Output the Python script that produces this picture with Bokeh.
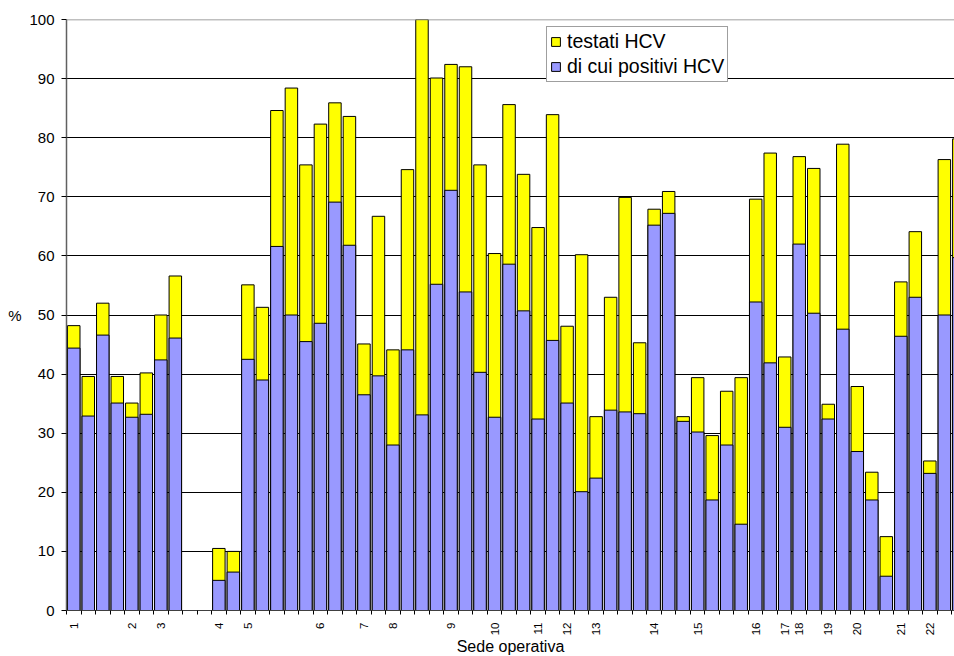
import numpy as np
from bokeh.plotting import figure
from bokeh.models import (Range1d, FixedTicker, Legend, LegendItem, Span,
                          ColumnDataSource, LinearAxis)
from bokeh.embed import file_html
from bokeh.resources import INLINE

nan = float("nan")

# one entry per category slot on the x axis ("" = unlabelled slot)
sede_labels = [
    "1", "", "", "", "2", "", "3", "", "", "",
    "4", "", "5", "", "", "", "", "6", "", "",
    "7", "", "8", "", "", "", "9", "", "", "10",
    "", "", "11", "", "12", "", "13", "", "", "",
    "14", "", "", "15", "", "", "", "16", "", "17",
    "18", "", "19", "", "20", "", "", "21", "", "22",
    "", "",
]

testati_hcv = [
    48.2, 39.6, 52.0, 39.6, 35.1, 40.2, 50.0, 56.6, nan, nan,
    10.5, 10.0, 55.1, 51.3, 84.6, 88.4, 75.4, 82.3, 85.9, 83.6,
    45.1, 66.7, 44.1, 74.6, 100.0, 90.1, 92.4, 92.0, 75.4, 60.4,
    85.6, 73.8, 64.8, 83.9, 48.1, 60.2, 32.8, 53.0, 69.9, 45.3,
    67.9, 70.9, 32.8, 39.4, 29.6, 37.1, 39.4, 69.6, 77.4, 42.9,
    76.8, 74.8, 34.9, 78.9, 37.9, 23.4, 12.5, 55.6, 64.1, 25.3,
    76.3, 79.8,
]

positivi_hcv = [
    44.4, 32.9, 46.6, 35.1, 32.7, 33.2, 42.4, 46.1, nan, nan,
    5.1, 6.5, 42.5, 39.0, 61.6, 50.0, 45.5, 48.6, 69.1, 61.8,
    36.5, 39.7, 28.0, 44.1, 33.1, 55.2, 71.1, 53.9, 40.3, 32.7,
    58.6, 50.7, 32.4, 45.7, 35.1, 20.1, 22.4, 33.9, 33.6, 33.3,
    65.2, 67.2, 32.0, 30.2, 18.7, 28.0, 14.6, 52.2, 41.9, 31.0,
    62.0, 50.3, 32.4, 47.6, 26.9, 18.7, 5.8, 46.4, 53.0, 23.2,
    50.0, 59.7,
]

y_ticks = [0, 10, 20, 30, 40, 50, 60, 70, 80, 90, 100]
y_title = "%"
x_title = "Sede operativa"

FONT = "Liberation Sans"

n = len(sede_labels)
src = ColumnDataSource(data=dict(
    x=np.arange(n),
    testati=np.array(testati_hcv, dtype=float),
    positivi=np.array(positivi_hcv, dtype=float),
))

p = figure(frame_width=888, frame_height=591,
           min_border_left=66, min_border_right=0,
           min_border_top=19, min_border_bottom=46,
           x_range=Range1d(-0.5, 60.7), y_range=Range1d(0, 100),
           output_backend="svg", toolbar_location=None,
           background_fill_color="white", border_fill_color="white")
p.outline_line_color = None

r1 = p.vbar(x="x", top="testati", bottom=0, width=0.86, source=src,
            fill_color="#FFFF00", line_color="black", line_width=1)
r2 = p.vbar(x="x", top="positivi", bottom=0, width=0.86, source=src,
            fill_color="#9999FF", line_color="black", line_width=1)

# grid
p.xgrid.grid_line_color = None
p.ygrid.ticker = FixedTicker(ticks=y_ticks[1:-1])
p.ygrid.grid_line_color = "#000000"
p.ygrid.grid_line_width = 1
p.add_layout(Span(location=100, dimension="width", line_color="#808080", line_width=1.5))

# y axis
p.yaxis.ticker = FixedTicker(ticks=y_ticks)
p.yaxis.major_tick_out = 5
p.yaxis.major_tick_in = 0
p.yaxis.minor_tick_line_color = None
p.yaxis.axis_line_color = "#606060"
p.yaxis.axis_line_width = 1.5
p.yaxis.major_tick_line_color = "black"
p.yaxis.major_label_text_font = FONT
p.yaxis.major_label_text_font_size = "15px"
p.yaxis.major_label_text_color = "black"
p.yaxis.major_label_standoff = 7

# horizontal "%" title: an extra, line-less axis outside the main y axis
ytitle_axis = LinearAxis(ticker=FixedTicker(ticks=[50]),
                         major_label_overrides={50: y_title})
ytitle_axis.axis_line_color = None
ytitle_axis.major_tick_line_color = None
ytitle_axis.minor_tick_line_color = None
ytitle_axis.major_tick_out = 0
ytitle_axis.major_tick_in = 0
ytitle_axis.major_label_standoff = 5
ytitle_axis.major_label_text_font = FONT
ytitle_axis.major_label_text_font_size = "15px"
ytitle_axis.major_label_text_color = "black"
p.add_layout(ytitle_axis, "left")

# x axis
major = [i for i, l in enumerate(sede_labels) if l]
minor = [i - 0.5 for i in range(n + 1)]
p.xaxis.ticker = FixedTicker(ticks=major, minor_ticks=minor)
p.xaxis.major_label_overrides = {i: sede_labels[i] for i in major}
p.xaxis.major_tick_out = 0
p.xaxis.major_tick_in = 0
p.xaxis.minor_tick_out = 4
p.xaxis.minor_tick_in = 0
p.xaxis.minor_tick_line_color = "black"
p.xaxis.axis_line_color = "#404040"
p.xaxis.major_label_orientation = np.pi / 2
p.xaxis.major_label_text_font = FONT
p.xaxis.major_label_text_font_size = "11.5px"
p.xaxis.major_label_text_color = "black"
p.xaxis.major_label_standoff = 8
p.xaxis.axis_label = x_title
p.xaxis.axis_label_text_font = FONT
p.xaxis.axis_label_text_font_size = "16px"
p.xaxis.axis_label_text_font_style = "normal"
p.xaxis.axis_label_text_color = "black"
p.xaxis.axis_label_standoff = 0

legend = Legend(items=[LegendItem(label="testati HCV", renderers=[r1]),
                       LegendItem(label="di cui positivi HCV", renderers=[r2])],
                location=(480, 528))
legend.label_text_font = FONT
legend.label_text_font_size = "19.5px"
legend.label_text_color = "black"
legend.glyph_width = 11
legend.glyph_height = 11
legend.label_height = 22
legend.label_standoff = 6
legend.spacing = 2
legend.padding = 3
legend.margin = 0
legend.border_line_color = "#404040"
legend.border_line_width = 1
legend.background_fill_color = "white"
legend.background_fill_alpha = 1
p.add_layout(legend)

open("out.html", "w").write(file_html(p, INLINE))
